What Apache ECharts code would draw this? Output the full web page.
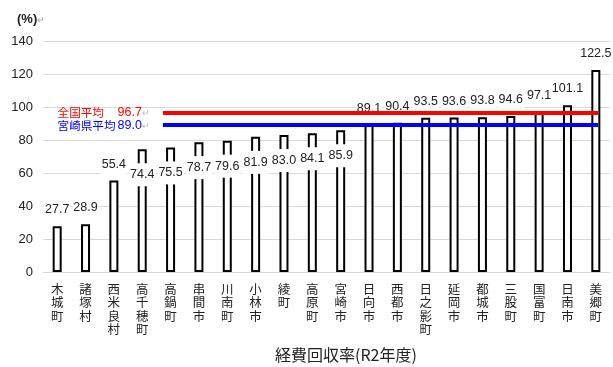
<!DOCTYPE html>
<html>
<head>
<meta charset="utf-8">
<script src="https://cdn.jsdelivr.net/npm/echarts@6/dist/echarts.min.js"></script>
<style>
  html, body { margin: 0; padding: 0; background: #fff; }
  #chart { width: 613px; height: 367px; }
</style>
</head>
<body>
<div id="chart"></div>
<script>
// 市町村
const categories = ['木城町', '諸塚村', '西米良村', '高千穂町', '高鍋町', '串間市', '川南町', '小林市', '綾町', '高原町',
  '宮崎市', '日向市', '西都市', '日之影町', '延岡市', '都城市', '三股町', '国富町', '日南市', '美郷町']
// 経費回収率 (%)
const rates = [27.7, 28.9, 55.4, 74.4, 75.5, 78.7, 79.6, 81.9, 83.0, 84.1,
  85.9, 89.1, 90.4, 93.5, 93.6, 93.8, 94.6, 97.1, 101.1, 122.5]
// 平均
const avgNames = ['全国平均', '宮崎県平均']
const avgValues = [96.7, 89.0]
const avgColors = ['#ff0000', '#0000ff']
// 平均線の範囲（カテゴリ幅単位）
const avgSpan = [4.23, 19.58]

const numFont = "'Liberation Sans', Arial, sans-serif"
const cjkFont = "'Noto Sans CJK JP', sans-serif"

const chart = echarts.init(document.getElementById('chart'))

// 平均線と重なるラベルは棒の中へ下げる
const barData = rates.map(v => {
  const inside = v >= 70 && v < avgValues[1]
  return {
    value: v,
    label: inside
      ? { position: 'insideTop', distance: 14 }
      : { position: 'top', distance: 5 }
  }
})

const avgLines = avgValues.map((v, i) => [
  {
    coord: [avgSpan[0], v],
    lineStyle: { color: avgColors[i], width: 4, type: 'solid' },
    label: {
      show: true,
      position: 'start',
      distance: 13,
      formatter: '{a|' + avgNames[i] + '}{b|' + v.toFixed(1) + '}{c|↵}',
      rich: {
        a: { fontFamily: cjkFont, fontSize: 11.6, color: avgColors[i], width: 60, align: 'left' },
        b: { fontFamily: numFont, fontSize: 12.5, color: avgColors[i] },
        c: { fontFamily: cjkFont, fontSize: 9, color: '#bbb' }
      }
    }
  },
  { coord: [avgSpan[1], v] }
])

const option = {
  animation: false,
  title: [
    {
      text: '{t|(%)}{c|↵}',
      left: 12,
      top: 8,
      textStyle: {
        rich: {
          t: { fontFamily: numFont, fontSize: 13, color: '#222' },
          c: { fontFamily: cjkFont, fontSize: 9, color: '#bbb' }
        }
      }
    },
    {
      text: '経費回収率(R2年度)',
      left: 270,
      top: 342,
      textStyle: { fontFamily: cjkFont, fontSize: 16, fontWeight: 'normal', color: '#222' }
    }
  ],
  grid: { left: 43, right: 3, top: 41, bottom: 95 },
  xAxis: [
    {
      type: 'category',
      data: categories,
      axisLine: { show: true, lineStyle: { color: '#d9d9d9', width: 1 } },
      axisTick: { show: false },
      axisLabel: {
        interval: 0,
        margin: 10,
        fontFamily: cjkFont,
        fontSize: 12.5,
        lineHeight: 13.5,
        color: '#222',
        formatter: name => name.split('').join('\n')
      }
    },
    { type: 'value', min: 0, max: 20, show: false }
  ],
  yAxis: {
    type: 'value',
    min: 0,
    max: 140,
    interval: 20,
    axisLine: { show: false },
    axisTick: { show: false },
    axisLabel: { margin: 10, fontFamily: numFont, fontSize: 13, color: '#222' },
    splitLine: { lineStyle: { color: '#d9d9d9', width: 1 } }
  },
  series: [
    {
      type: 'bar',
      barWidth: 9,
      z: 2,
      itemStyle: { color: '#fff', borderColor: '#000', borderWidth: 2 },
      label: {
        show: true,
        fontFamily: numFont,
        fontSize: 12.5,
        color: '#222',
        backgroundColor: '#fff',
        padding: [5, 1],
        overflow: 'none',
        formatter: p => p.value.toFixed(1)
      },
      labelLayout: { hideOverlap: false },
      data: barData
    },
    {
      type: 'line',
      xAxisIndex: 1,
      data: [],
      markLine: {
        silent: true,
        symbol: 'none',
        z: 5,
        data: avgLines
      }
    }
  ]
}

chart.setOption(option)
</script>
</body>
</html>
